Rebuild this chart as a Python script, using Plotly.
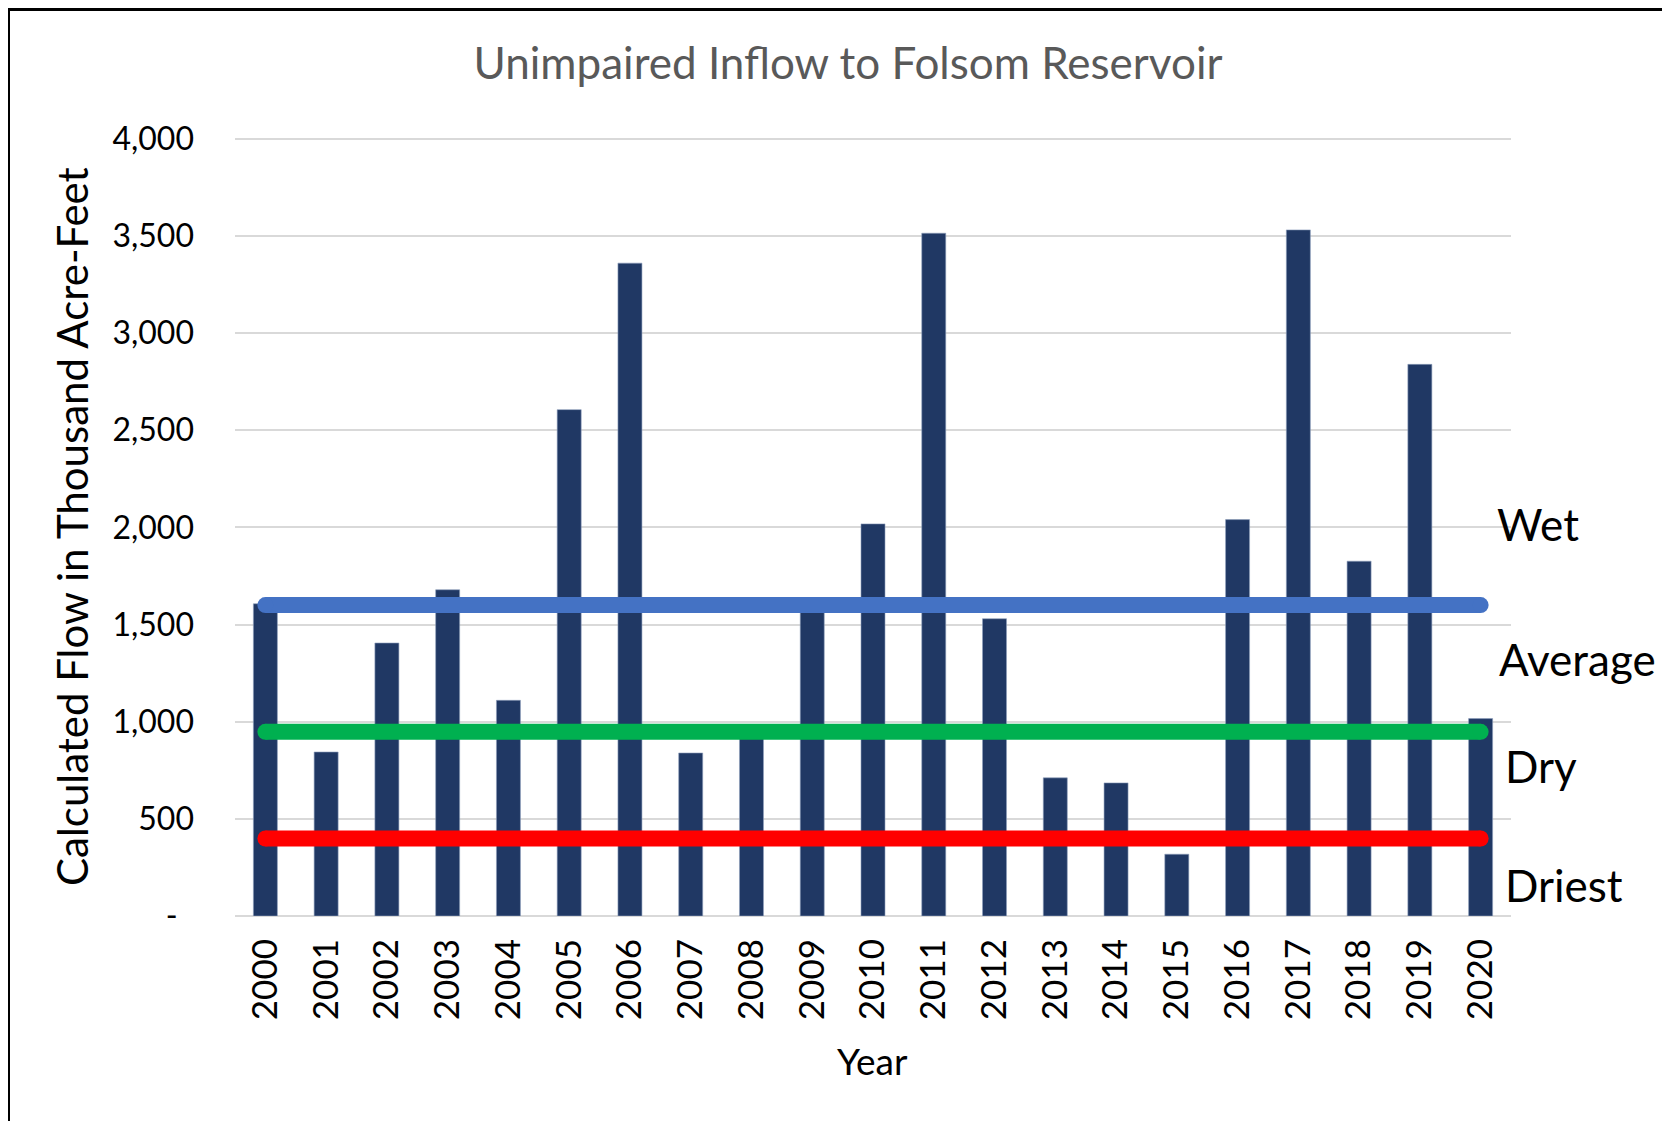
import plotly.graph_objects as go

years = [str(y) for y in range(2000, 2021)]
inflow = [1607, 844, 1405, 1679, 1110, 2606, 3360, 839, 950, 1590, 2018,
          3514, 1530, 711, 685, 318, 2040, 3531, 1826, 2839, 1016]

threshold_names = ["Wet", "Dry", "Driest"]
threshold_values = [1600, 948, 399]
threshold_colors = ["#4472C4", "#00B050", "#FF0000"]

label_names = ["Wet", "Average", "Dry", "Driest"]
label_y = [2018, 1324, 772, 160]
label_x_page = [1495, 1497, 1503, 1503]

tick_vals = [0, 500, 1000, 1500, 2000, 2500, 3000, 3500, 4000]
tick_text = ["-\u00a0\u00a0", "500", "1,000", "1,500", "2,000", "2,500", "3,000", "3,500", "4,000"]

FONT = "Lato, 'Open Sans', sans-serif"

OFF = 8  # page body margin
W, H = 1670, 1121
Y_TOP = 4040
L, R, T, B = 235 - OFF, 1511 - OFF, 131 - OFF, 916 - OFF
pw, ph = R - L, B - T


def px(x):
    return (x - OFF - L) / pw


def py(y):
    return (B - (y - OFF)) / ph


fig = go.Figure()
fig.add_trace(go.Bar(x=years, y=inflow, marker=dict(color="#203864", line=dict(color="#8FA0BC", width=0.6)),
                     showlegend=False, hoverinfo="x+y"))

for name, val, col in zip(threshold_names, threshold_values, threshold_colors):
    fig.add_trace(go.Scatter(x=[years[0], years[-1]], y=[val, val], mode="lines+markers",
                             line=dict(color=col, width=16), marker=dict(color=col, size=16),
                             name=name, showlegend=False))

fig.update_layout(
    width=W, height=H, autosize=False,
    margin=dict(l=L, r=W - R, t=T, b=H - B, pad=0),
    paper_bgcolor="white", plot_bgcolor="white",
    bargap=0.605,
    font=dict(family=FONT, color="black"),
    title=dict(text="Unimpaired Inflow to Folsom Reservoir", x=(848 - OFF) / W, xref="container",
               xanchor="center", y=1 - (64 - OFF) / H, yref="container", yanchor="middle",
               font=dict(family=FONT, size=44, color="#595959")),
    xaxis=dict(type="category", tickangle=-90, tickfont=dict(size=35, family=FONT, color="black"),
               showgrid=False, showline=False, ticks="", ticklabelstandoff=15,
               range=[-0.5, 20.5]),
    yaxis=dict(range=[0, Y_TOP], tickvals=tick_vals, ticktext=tick_text,
               tickfont=dict(size=32, family=FONT, color="black"),
               showgrid=True, gridcolor="#D9D9D9", gridwidth=2, zeroline=True, zerolinecolor="#D9D9D9",
               zerolinewidth=2, showline=False, ticks="", ticklabelstandoff=40, fixedrange=True),
)

fig.add_annotation(text="Calculated Flow in Thousand Acre-Feet", xref="paper", yref="paper",
                   x=px(72), y=py(527), xanchor="center", yanchor="middle", textangle=-90,
                   showarrow=False, font=dict(family=FONT, size=42, color="black"))
fig.add_annotation(text="Year", xref="paper", yref="paper", x=px(872), y=py(1060),
                   xanchor="center", yanchor="middle", showarrow=False,
                   font=dict(family=FONT, size=37, color="black"))

for name, yv, xv in zip(label_names, label_y, label_x_page):
    fig.add_annotation(text=name, xref="paper", yref="y", x=px(xv), y=yv, xanchor="left", yanchor="middle",
                       showarrow=False, font=dict(family=FONT, size=44, color="black"))

# outer frame (top and left edges visible)
fig.add_shape(type="line", xref="paper", yref="paper", x0=px(8), x1=px(W + 20), y0=py(9.5), y1=py(9.5),
              line=dict(color="black", width=3))
fig.add_shape(type="line", xref="paper", yref="paper", x0=px(9), x1=px(9), y0=py(9.5), y1=py(H + 20),
              line=dict(color="black", width=2))

fig.write_html("out.html")
